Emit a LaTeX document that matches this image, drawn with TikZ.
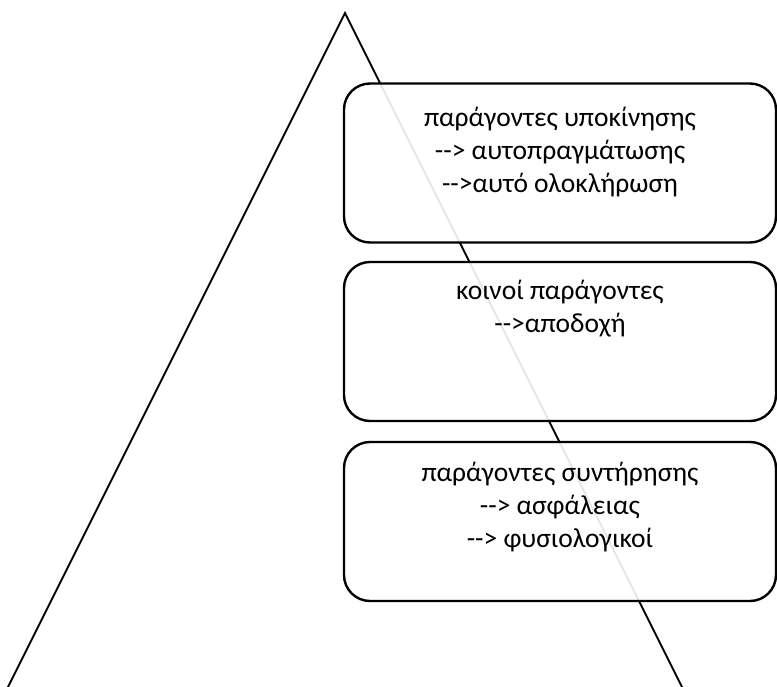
\documentclass[tikz,border=0pt]{standalone}
\usepackage{fontspec}
\setmainfont{Carlito}
\usetikzlibrary{positioning}
\tikzset{
  panel/.style={draw,line width=2.4pt,rounded corners=26pt,fill=white,fill opacity=0.9,
    minimum width=432pt,minimum height=159pt,inner sep=0pt},
  paneltext/.style={align=center,font=\fontsize{27.5}{33}\selectfont,inner sep=0pt}
}

\begin{document}
\begin{tikzpicture}[x=1pt,y=-1pt]
	\useasboundingbox (0,0) rectangle (777,686);

	% pyramid
	\coordinate (apex) at (345,13);
	\coordinate (bl) at (7,689);
	\coordinate (br) at (683,689);
	\draw[line width=2pt] (bl) -- (apex) -- (br);

	% levels
	\node[panel] (upper) at (560,163) {};
	\node[panel] (middle) at (560,341.5) {};
	\node[panel] (lower) at (560,521.5) {};

	\node[paneltext,below=25pt of upper.north] {παράγοντες υποκίνησης\\-{}-> αυτοπραγμάτωσης\\-{}->αυτό ολοκλήρωση};
	\node[paneltext,below=19pt of middle.north] {κοινοί παράγοντες\\-{}->αποδοχή};
	\node[paneltext,below=21pt of lower.north] {παράγοντες συντήρησης\\-{}-> ασφάλειας\\-{}-> φυσιολογικοί};
\end{tikzpicture}
\end{document}
